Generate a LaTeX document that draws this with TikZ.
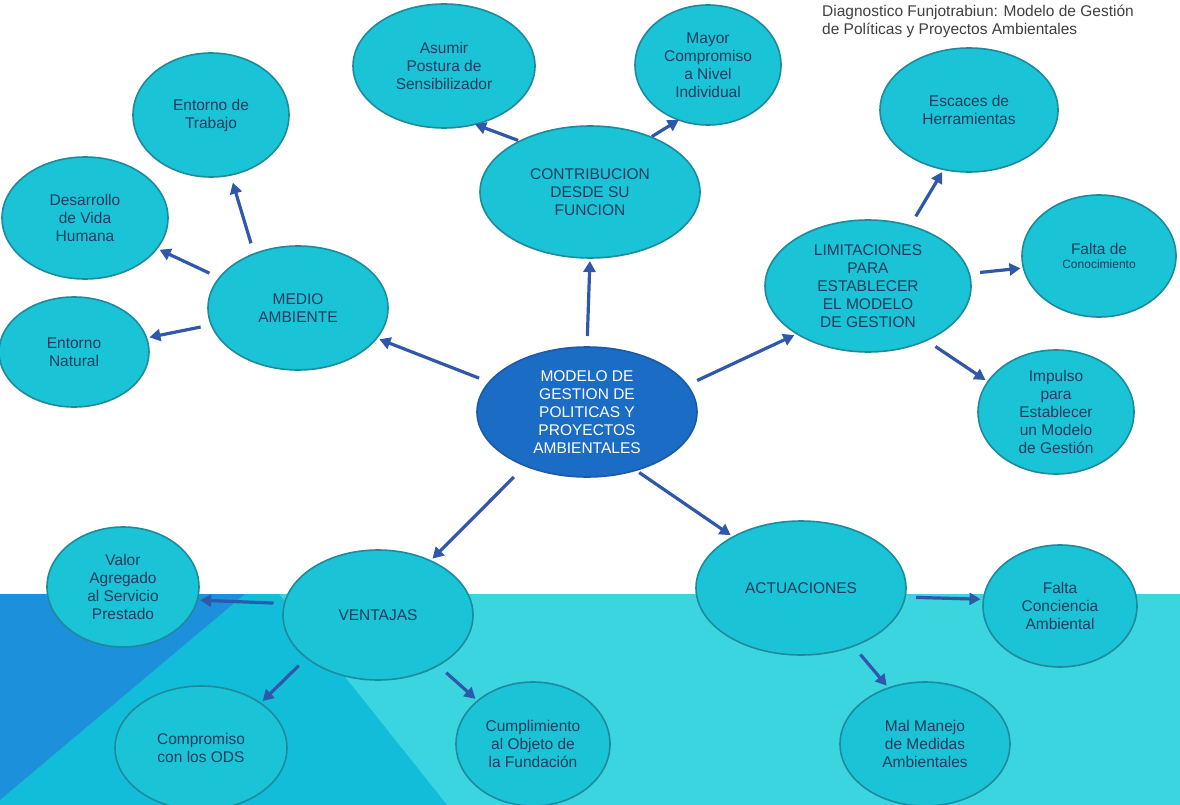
\documentclass[tikz,border=0pt]{standalone}
\usepackage{fontspec}
\setmainfont{Liberation Sans}
\usetikzlibrary{shapes.geometric,arrows.meta}
\definecolor{bubfill}{HTML}{1BC3D6}
\definecolor{bubline}{HTML}{1E8A9E}
\definecolor{cenfill}{HTML}{1B6CC4}
\definecolor{cenline}{HTML}{1A5AA8}
\definecolor{arrc}{HTML}{3058AA}
\definecolor{txt}{HTML}{1E3D5E}
\definecolor{hdr}{HTML}{404040}
\definecolor{bandlight}{HTML}{3BD5E0}
\definecolor{bandmid}{HTML}{12BDD9}
\definecolor{banddark}{HTML}{1C90DA}
\begin{document}
\begin{tikzpicture}[x=1pt,y=-1pt,
  bub/.style={ellipse,draw=bubline,line width=1.6pt,fill=bubfill,inner sep=0pt,outer sep=0pt,
    align=center,text=txt,font=\fontsize{15.5}{18}\selectfont},
  cen/.style={bub,fill=cenfill,draw=cenline,text=white},
  arr/.style={draw=arrc,line width=3.2pt,-{Triangle[length=11pt,width=12pt]},shorten <=11pt,shorten >=3pt}]
\useasboundingbox (0,0) rectangle (1180,805);
\clip (0,0) rectangle (1180,805);
\fill[white] (0,0) rectangle (1180,805);
% background band
\fill[bandlight] (0,594) rectangle (1180,805);
\fill[bandmid] (245,594) -- (279,594) -- (447,805) -- (0,805) -- (0,800) -- cycle;
\fill[banddark] (0,594) -- (245,594) -- (0,800) -- cycle;
% header
\node[anchor=north west,align=left,text=hdr,font=\fontsize{15.5}{18}\selectfont,inner sep=0pt]
  (hdr) at (822,5) {Diagnostico Funjotrabiun: Modelo de Gestión\\de Políticas y Proyectos Ambientales};
% nodes
\node[cen,minimum width=220pt,minimum height=130pt] (c) at (587,412) {MODELO DE\\GESTION DE\\POLITICAS Y\\PROYECTOS\\AMBIENTALES};
\node[bub,minimum width=220pt,minimum height=132pt] (contrib) at (590,192) {CONTRIBUCION\\DESDE SU\\FUNCION};
\node[bub,minimum width=182pt,minimum height=124pt] (asumir) at (444,66) {Asumir\\Postura de\\Sensibilizador};
\node[bub,minimum width=146pt,minimum height=120pt] (mayor) at (708,65) {Mayor\\Compromiso\\a Nivel\\Individual};
\node[bub,minimum width=156pt,minimum height=124pt] (enttrab) at (211,115) {Entorno de\\Trabajo};
\node[bub,minimum width=166pt,minimum height=122pt] (desarr) at (85,218) {Desarrollo\\de Vida\\Humana};
\node[bub,minimum width=180pt,minimum height=124pt] (medio) at (298,308) {MEDIO\\AMBIENTE};
\node[bub,minimum width=150pt,minimum height=110pt] (entnat) at (74,352) {Entorno\\Natural};
\node[bub,minimum width=178pt,minimum height=124pt] (escaces) at (969,110) {Escaces de\\Herramientas};
\node[bub,minimum width=206pt,minimum height=132pt] (limit) at (868,286) {LIMITACIONES\\PARA\\ESTABLECER\\EL MODELO\\DE GESTION};
\node[bub,minimum width=154pt,minimum height=122pt] (faltacon) at (1099,256) {Falta de\\[-4pt]{\fontsize{12}{13}\selectfont Conocimiento}};
\node[bub,minimum width=156pt,minimum height=124pt] (impulso) at (1056,412) {Impulso\\para\\Establecer\\un Modelo\\de Gestión};
\node[bub,minimum width=190pt,minimum height=130pt] (ventajas) at (378,615) {VENTAJAS};
\node[bub,minimum width=152pt,minimum height=120pt] (valor) at (123,587) {Valor\\Agregado\\al Servicio\\Prestado};
\node[bub,minimum width=172pt,minimum height=124pt] (compromiso) at (201,748) {Compromiso\\con los ODS};
\node[bub,minimum width=154pt,minimum height=124pt] (cumpl) at (533,744) {Cumplimiento\\al Objeto de\\la Fundación};
\node[bub,minimum width=210pt,minimum height=134pt] (actu) at (801,588) {ACTUACIONES};
\node[bub,minimum width=154pt,minimum height=122pt] (faltaconc) at (1060,606) {Falta\\Conciencia\\Ambiental};
\node[bub,minimum width=170pt,minimum height=124pt] (malman) at (925,744) {Mal Manejo\\de Medidas\\Ambientales};
% arrows
\draw[arr] (c.163) -- (medio.-21);
\draw[arr] (c.90) -- (contrib.-90);
\draw[arr] (c.15) -- (limit.-146);
\draw[arr,shorten <=16pt] (c.221) -- (ventajas.46);
\draw[arr,shorten <=4pt] (c.-50) -- (actu.143);
\draw[arr,shorten >=8pt] (medio.129) -- (enttrab.-72);
\draw[arr] (medio.159) -- (desarr.-23);
\draw[arr] (medio.191) -- (entnat.11);
\draw[arr,shorten <=2pt,shorten >=0pt] (contrib.144) -- (asumir.-62);
\draw[arr,shorten <=1pt,shorten >=0pt] (contrib.42) -- (mayor.-118);
\draw[arr] (limit.55) -- (escaces.-113);
\draw[arr] (limit.7) -- (faltacon.189);
\draw[arr] (limit.-43) -- (impulso.156);
\draw[arr] (ventajas.173) -- (valor.-10);
\draw[arr] (ventajas.-149) -- (compromiso.37);
\draw[arr] (ventajas.-40) -- (cumpl.142);
\draw[arr] (actu.-5) -- (faltaconc.175);
\draw[arr] (actu.-48) -- (malman.123);
\end{tikzpicture}
\end{document}
